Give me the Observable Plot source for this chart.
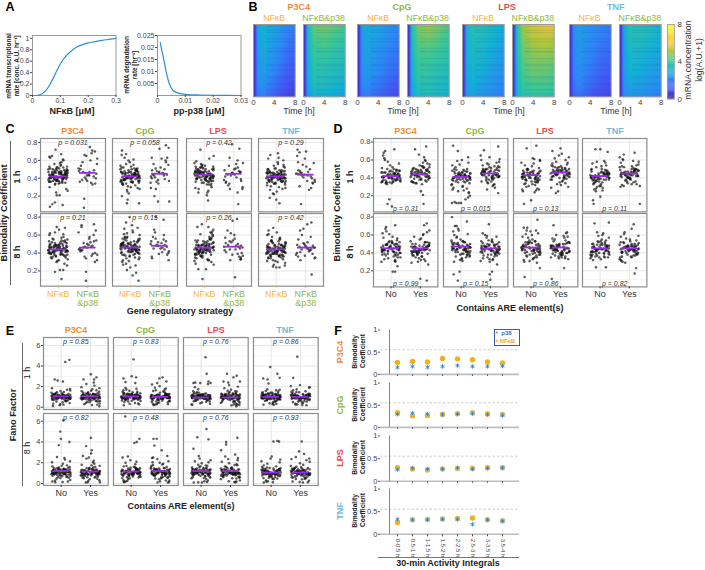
<!DOCTYPE html>
<html><head><meta charset="utf-8">
<script src="https://cdn.jsdelivr.net/npm/d3@7"></script>
<script src="https://cdn.jsdelivr.net/npm/@observablehq/plot@0.6"></script>
<style>html,body{margin:0;background:#fff}#page{position:relative;width:705px;height:570px;overflow:hidden;font-family:"Liberation Sans",Arial,sans-serif}
#page svg{position:absolute;background:transparent}.t{position:absolute;white-space:pre;line-height:1.05;text-align:center;transform-origin:center}</style>
</head><body><div id="page"></div>
<script>
// ---------- Panel A curves
const nfkbX=[0,.01,.02,.03,.04,.05,.06,.07,.08,.09,.1,.11,.12,.13,.14,.15,.16,.18,.2,.22,.25,.28,.3];
const nfkbY=[0,0,.005,.02,.05,.1,.17,.26,.36,.46,.55,.63,.69,.74,.78,.82,.85,.89,.92,.94,.965,.985,1];
const p38X=[.001,.0015,.002,.0025,.003,.0035,.004,.0045,.005,.006,.007,.008,.01,.012,.015,.02,.025,.03];
const p38Y=[.022,.019,.0165,.0135,.0105,.008,.0058,.0042,.003,.0018,.0012,.0008,.0005,.0003,.0002,.0001,.00005,0];
// ---------- Panel B heat tables (rows top to bottom; columns are heatTimes after the early ramp)
const heatRows=[0,.15,.3,.5,.7,.85,1];
const heatTimes=[.8,2,4,6,8];
const earlyTimes=[0,.35];
const earlyValues=[.2,.6];
const hP3C4A=[[2.8,3.1,2.8,2.2,1.8],[2.7,3.0,2.6,2.0,1.6],[2.6,2.9,2.4,1.8,1.4],[2.4,2.7,2.2,1.6,1.2],[2.3,2.5,1.9,1.3,1.0],[2.1,2.2,1.6,1.1,.8],[1.7,1.8,1.2,.8,.6]];
const hP3C4B=[[3.4,4.4,4.6,4.4,4.0],[3.3,4.2,4.3,4.1,3.9],[3.2,4.0,4.1,3.9,3.7],[3.0,3.8,3.8,3.6,3.5],[2.9,3.6,3.6,3.4,3.2],[2.7,3.4,3.4,3.2,3.0],[2.4,3.0,3.0,2.8,2.6]];
const hCpGA=[[2.6,2.9,2.7,2.3,2.0],[2.5,2.8,2.6,2.2,1.9],[2.4,2.7,2.4,2.0,1.7],[2.3,2.6,2.2,1.8,1.5],[2.2,2.4,2.0,1.6,1.3],[2.0,2.1,1.7,1.3,1.0],[1.7,1.8,1.4,1.0,.8]];
const hCpGB=[[3.5,4.6,4.9,4.6,4.2],[3.4,4.4,4.6,4.3,4.0],[3.3,4.2,4.3,4.1,3.8],[3.1,4.0,4.0,3.8,3.6],[3.0,3.8,3.8,3.6,3.4],[2.8,3.5,3.6,3.4,3.2],[2.6,3.2,3.4,3.2,3.0]];
const hLPSA=[[3.2,3.6,3.5,3.2,2.9],[3.1,3.5,3.4,3.1,2.8],[3.0,3.4,3.3,2.9,2.6],[2.9,3.3,3.1,2.7,2.4],[2.8,3.1,2.9,2.5,2.2],[2.6,2.9,2.6,2.3,2.0],[2.4,2.6,2.3,2.0,1.7]];
const hLPSB=[[3.6,4.9,5.5,5.8,5.9],[3.5,4.7,5.2,5.3,5.3],[3.5,4.5,4.9,5.0,4.9],[3.3,4.3,4.6,4.6,4.5],[3.2,4.1,4.4,4.3,4.2],[3.1,3.9,4.1,4.1,4.0],[3.0,3.6,3.8,3.8,3.6]];
const hTNFA=[[2.3,2.6,2.3,2.0,1.8],[2.2,2.5,2.2,1.9,1.7],[2.1,2.4,2.1,1.7,1.6],[2.0,2.3,1.9,1.5,1.3],[1.9,2.1,1.7,1.3,1.1],[1.7,1.9,1.5,1.1,.9],[1.4,1.5,1.1,.9,.7]];
const hTNFB=[[2.8,3.6,3.6,3.4,3.1],[2.7,3.5,3.5,3.3,3.0],[2.6,3.4,3.3,3.1,2.9],[2.5,3.2,3.1,2.8,2.6],[2.4,3.0,2.9,2.6,2.4],[2.2,2.7,2.6,2.3,2.1],[2.0,2.4,2.3,2.0,1.8]];
const streakRows=[.03,.08,.11,.2,.24,.33,.37,.38,.47,.55,.57,.63,.72,.74,.81,.83,.9,.96];
const barLevels=d3.range(0,8.02,.1);
const barTicks=[0,4,8];
const parulaAt=[0,1,2,3,4,5,6,7,8];
const parula=["#3e26a8","#4752f4","#2d87f7","#12b1d6","#37c897","#abc739","#fec338","#f5e427","#f9fb15"];
// ---------- Shared jitter offsets (hundredths of a category step)
const jitter=[-21,14,-5,30,-29,8,23,-13,2,-33,18,-8,27,-18,11,-25,5,32,-2,-30,20,-11,16,-23,29,-6,9,-16,25,-31,3,13,-27,21,-10,31,-19,6,-3,24,-14,17,-26];
// ---------- Panel C (hundredths); A NFkB, B NFkB&p38, O sparse points [x,y]; X extra core points of the NFkB cloud
const c1P3C4A=[45,38,52,41,36,48,43,56,34,47,40,50,44,37,58,42,35,46,39,53,49,33,61,41,45,38,55,43,47,36,51,40,63,44,34,48,42,57,37,46,39,52,41,65,35,49,43,30,54,45,40,47,38,60,42,28,50,44,36,46,26,41];
const c1P3C4B=[46,40,58,35,50,43,62,37,48,42,66,33,54,45,39,60,47,34,51,44,68,36,49,41,56,38,47,43];
const c1P3C4O=[[-28,8],[-20,11],[-11,13],[15,10],[-5,21],[5,21],[-7,24],[-9,72],[10,67],[-30,64],[88,17],[87,7],[107,75],[115,71],[124,70],[95,65]];
const c1P3C4X=[44,41,47,39,43,50,37,46,42,48,40,45,36,51,43,38,49,44,41,52,35,46,42,40,47,44,38,53,43,45,41,48,37,50,42,46,39,44,47,41];
const c1CpGA=[42,36,50,44,31,47,39,55,33,45,40,58,37,48,27,43,52,35,60,41,46,29,38,53,44,34,49,25,42,63,36,47,40,56,32,45,38,51,23,43,66,35,48,41,30,54,39,46,37,44,61,33,50,28,42,47];
const c1CpGB=[47,42,60,36,50,44,55,38,46,41,63,35,52,45,40,58,48,37,43,62,46,44,51,39,49,56,43,34];
const c1CpGO=[[-11,12],[-9,16],[-28,20],[30,12],[-28,71],[-14,67],[73,63],[94,14],[132,14],[70,29],[87,28],[82,20],[99,73],[121,77],[130,74]];
const c1CpGX=[43,40,46,38,42,49,36,45,41,47,39,44,35,50,42,37,48,43,40,51,34,45,41,39,46,43,37,52,42,44,40,47,36,49,41,45,38,43,46,40];
const c1LPSA=[44,39,50,42,35,47,40,56,33,46,41,52,37,48,30,43,54,36,59,45,38,49,28,42,51,34,46,62,40,44,26,47,37,53,42,32,48,39,57,45,35,50,41,24,44,38,65,46,29,43,52,36,47,40,55,33];
const c1LPSB=[46,41,54,37,49,44,60,35,47,43,57,32,51,45,39,63,48,36,44,52,46,30,42,56,47,28,50,38];
const c1LPSO=[[13,15],[-13,72],[115,11],[94,78],[119,73],[129,28],[113,24],[85,34],[-20,24],[9,21]];
const c1LPSX=[45,42,48,40,44,51,38,47,43,49,41,46,37,52,44,39,50,45,42,53,36,47,43,41,48,45,39,54,44,46,42,49,38,51,43,47,40,45,48,42];
const c1TNFA=[42,37,48,40,34,45,39,53,32,44,41,50,36,46,29,43,56,35,60,41,47,38,27,42,51,33,45,63,40,43,25,46,36,54,41,31,49,38,58,44,34,48,40,23,43,37,52,45,30,41,55,35,47,39,62,28];
const c1TNFB=[45,40,55,36,48,43,62,34,46,42,58,31,50,44,38,65,47,35,43,53,45,29,41,57,46,27,49,37];
const c1TNFO=[[-22,18],[0,16],[11,12],[84,11],[72,72],[79,69],[101,70],[-20,66],[-8,22],[6,68]];
const c1TNFX=[43,40,46,38,42,48,36,45,41,47,39,44,35,50,42,37,46,43,40,49,34,45,41,39,46,43,37,51,42,44,40,47,36,48,41,45,38,43,46,40];
const c8P3C4A=[47,41,52,44,38,49,43,58,36,46,42,54,39,50,33,45,60,37,63,48,40,51,30,44,55,35,47,66,42,45,28,49,38,56,43,31,52,40,61,46,34,50,44,26,45,39,68,47,32,43,53,37,48,41,57,35];
const c8P3C4B=[47,42,56,38,50,44,60,36,48,43,54,34,52,46,40,63,49,37,45,53,47,32,43,58,46,30,51,39];
const c8P3C4O=[[-11,19],[6,21],[17,21],[11,11],[94,19],[94,9],[79,71],[121,72],[127,65],[79,69],[-28,62],[-5,69]];
const c8P3C4X=[45,42,48,40,44,51,38,47,43,49,41,46,37,53,44,39,50,45,42,55,36,47,43,41,48,45,39,52,44,46,42,49,38,54,43,47,40,45,48,42];
const c8CpGA=[48,42,55,45,38,51,44,60,36,47,43,57,39,52,33,46,63,37,68,50,41,53,30,45,58,35,49,71,43,46,28,50,38,61,44,31,54,41,65,47,34,52,45,26,46,40,58,48,32,44,56,37,49,42,62,35];
const c8CpGB=[49,44,58,40,52,46,63,38,50,45,55,36,53,48,42,66,51,39,47,56,49,34,45,60,48,32,53,41];
const c8CpGO=[[28,9],[8,15],[-11,21],[0,24],[-14,74],[-2,80],[87,80],[113,77],[-20,67],[20,18],[-24,27]];
const c8CpGX=[47,44,50,42,46,53,40,49,45,51,43,48,39,55,46,41,52,47,44,56,38,49,45,43,50,47,41,54,46,48,44,51,40,57,45,49,42,47,50,44];
const c8LPSA=[47,41,54,44,37,50,43,60,35,46,42,57,38,52,32,45,63,36,66,49,40,53,30,44,58,34,48,69,42,46,28,51,38,61,43,31,55,40,64,47,33,52,45,27,46,39,56,48,32,44,59,37,49,41,62,35];
const c8LPSB=[48,43,56,39,51,45,62,37,49,44,54,35,53,47,41,65,50,38,46,57,48,33,44,60,47,36,52,40];
const c8LPSO=[[-6,11],[-20,22],[6,22],[104,13],[124,33],[96,76],[111,78],[-23,69],[-8,72],[88,32]];
const c8LPSX=[46,43,49,41,45,52,39,48,44,50,42,47,38,54,45,40,51,46,43,55,37,48,44,42,49,46,40,53,45,47,43,50,39,56,44,48,41,46,49,43];
const c8TNFA=[45,40,50,42,36,48,41,55,34,44,39,52,37,47,31,43,58,35,61,46,38,49,29,42,53,33,45,63,40,44,27,47,36,56,41,30,51,39,60,44,32,49,43,26,45,37,54,46,31,42,57,35,48,40,50,34];
const c8TNFB=[46,41,52,37,48,44,58,36,47,43,50,34,49,45,39,60,47,38,44,51,46,32,42,55,45,35,48,40];
const c8TNFO=[[0,24],[11,24],[-11,25],[120,16],[119,74],[81,65],[92,67],[-26,65],[-10,68],[105,72]];
const c8TNFX=[44,41,47,39,43,50,38,46,42,48,40,45,37,52,43,39,49,44,41,53,36,46,42,40,47,44,38,51,43,45,41,48,37,54,42,46,39,44,47,41];
// ---------- Panel D (Core = extra points of the dense middle of each cloud)
const d1P3C4A=[44,38,50,42,35,47,40,56,34,45,41,52,36,48,46,43,58,37,62,41,47,39,35,42,51,34,45,65,40,44,37,46,36,54,42,33,49,38,60,43,35,48,41,36,44];
const d1P3C4B=[46,40,54,36,48,43,60,35,47,42,57,34,50,45,38,63,48,36,44,52,46,33,41,56,47,37,50,39,45,66,42,36,53,44,34,49,41,59,46,38,43,51,35,47,55];
const d1P3C4O=[[-6,16],[-12,11],[3,8],[102,25],[109,21],[111,11],[-20,70],[11,72],[120,75],[82,72],[-25,68],[-30,36]];
const d1CpGA=[42,36,48,40,30,45,38,54,28,43,39,50,34,46,26,41,57,33,60,44,37,47,25,40,52,31,44,63,38,42,29,45,35,55,41,27,49,37,59,43,32,47,39,24,42];
const d1CpGB=[46,42,55,38,50,44,60,36,47,43,57,35,52,46,40,63,49,37,45,54,47,33,43,58,46,31,51,39,48,65,44,34,53,45,32,50,41,61,47,36,43,56,29,48,41];
const d1CpGO=[[-31,12],[-16,12],[0,12],[15,16],[30,20],[26,23],[-27,76],[-11,70],[127,23],[89,27],[127,75],[78,71],[-22,13],[-8,12],[24,18]];
const d1LPSA=[44,38,50,42,33,47,40,56,30,45,41,53,36,48,28,43,59,34,62,46,37,49,26,41,54,32,45,60,39,44,35,46,36,57,42,31,51,38,61,43,33,48,40,27,44];
const d1LPSB=[48,43,56,39,51,46,62,36,49,44,58,34,53,47,41,65,50,38,46,55,48,32,45,60,47,30,52,40,49,67,44,35,54,46,33,51,42,63,47,37,44,57,29,48,41];
const d1LPSO=[[0,15],[27,27],[18,76],[73,70],[101,73],[85,23],[-15,73],[-24,11],[-28,25],[12,24],[92,25]];
const d1TNFA=[42,37,48,41,33,45,39,54,30,44,40,50,36,46,28,43,56,34,59,45,38,47,26,41,52,31,43,57,39,42,35,45,37,53,40,31,49,38,58,44,33,46,41,29,43];
const d1TNFB=[45,41,54,37,48,44,60,35,47,42,57,33,50,45,39,63,48,36,44,52,46,32,43,58,45,30,50,38,47,61,42,34,53,44,33,49,40,59,46,36,43,55,31,47,40];
const d1TNFO=[[-16,72],[1,72],[26,69],[-24,15],[-22,11],[1,19],[-14,25],[136,11],[118,68],[81,66],[136,31],[-20,27]];
const d1CoreA=[43,40,46,38,42,48,37,45,41,47,39,44,36,49,42,38,46,43,40,50,35,45,41,39];
const d1CoreB=[46,43,49,41,45,51,40,48,44,50,42,47,39,52,45,41,49,46,43,53,38,48,44,42];
const d8P3C4A=[46,40,52,44,37,49,43,58,35,47,42,54,39,50,33,45,61,36,64,48,41,51,31,44,56,34,47,67,42,46,38,49,37,57,43,32,53,40,62,45,35,50,44,30,46];
const d8P3C4B=[45,40,52,37,48,43,60,35,47,42,56,33,50,44,38,65,47,36,43,52,46,31,41,58,45,34,49,39,47,63,42,32,53,44,30,48,41,61,46,36,43,55,29,47,40];
const d8P3C4O=[[6,19],[14,19],[22,25],[100,11],[122,9],[127,27],[122,73],[-17,69],[14,71],[-30,38],[113,71],[15,30]];
const d8CpGA=[48,42,55,45,38,51,44,60,36,47,43,57,39,52,34,46,64,37,67,50,41,53,32,45,58,35,49,70,43,46,37,50,39,61,44,33,54,41,65,47,36,52,45,31,46];
const d8CpGB=[46,41,53,38,49,44,58,35,47,42,55,33,50,45,39,62,48,36,44,52,46,32,43,57,45,31,49,38,47,60,42,34,53,44,30,48,41,59,46,37,43,54,33,47,40];
const d8CpGO=[[-31,80],[-25,16],[-5,19],[-11,9],[98,16],[106,19],[100,10],[123,27],[20,75],[95,72],[-24,30],[-15,70]];
const d8LPSA=[47,41,54,44,37,50,43,60,35,46,42,57,38,52,33,45,62,36,65,49,40,53,31,44,58,34,48,68,42,46,37,51,38,61,43,32,55,40,64,47,35,52,45,30,46];
const d8LPSB=[47,42,55,38,50,45,60,36,48,43,57,34,52,46,40,63,49,37,45,54,47,33,44,59,46,35,51,39,48,62,43,34,53,45,36,50,41,58,47,38,44,56,40,48,42];
const d8LPSO=[[30,23],[71,11],[113,23],[22,77],[77,71],[-22,13],[-25,68],[-15,65],[68,35],[20,29]];
const d8TNFA=[45,40,50,43,37,48,41,55,35,46,42,52,38,47,36,44,57,36,60,46,39,49,34,42,53,35,45,62,41,44,38,47,37,54,42,35,50,39,59,44,36,48,41,33,45];
const d8TNFB=[45,41,52,37,48,44,58,35,47,42,55,33,50,45,39,61,48,36,44,51,46,32,43,56,45,30,49,38,47,63,42,35,53,44,31,48,40,59,46,36,43,54,29,47,41];
const d8TNFO=[[-14,24],[20,24],[-19,73],[30,74],[118,17],[123,23],[115,72],[108,67],[-24,32],[-10,63]];
const d8CoreA=[46,43,49,41,45,51,40,48,44,50,42,47,39,52,45,41,49,46,43,53,38,48,44,42];
const d8CoreB=[45,42,48,40,44,50,39,47,43,49,41,46,38,51,44,40,48,45,42,52,37,47,43,41];
// ---------- Panel E (Core = extra points around the median, both clouds)
const e1P3C4A=[105,82,128,96,68,118,90,142,58,110,86,135,76,122,48,102,158,72,170,112,64,125,40,98,148,55,108,185,84,115,35,100,92,162,78,120,30,104,145,88,70,130,60,95,178,112,25,106,80,136];
const e1P3C4B=[110,78,140,92,60,125,88,165,50,115,82,150,70,130,42,100,195,66,210,118,58,135,35,96,175,48,108,225,84,122,30,102,90,185,75,128,25,105,160,86,62,145,55,98,240,112,22,94,72,155];
const e1P3C4O=[[14,440],[28,460],[-22,270],[-12,260],[101,320],[120,290],[76,270],[6,250],[-28,12],[-5,20],[112,270],[130,10]];
const e1CpGA=[105,84,130,95,70,118,90,145,60,110,86,135,78,122,50,100,160,74,172,112,65,125,42,98,150,56,108,188,85,115,36,102,92,165,76,120,32,104,148,88,72,132,62,96,180,110,28,106,82,138];
const e1CpGB=[100,78,135,90,60,120,85,165,48,112,80,150,68,128,40,96,190,64,205,115,55,130,34,94,172,46,105,220,82,118,30,100,88,182,72,125,26,102,158,84,60,142,52,95,235,108,20,92,70,152];
const e1CpGO=[[8,465],[2,300],[17,290],[-26,280],[-19,245],[14,235],[96,280],[107,290],[-25,20],[120,250],[125,30]];
const e1LPSA=[100,80,125,92,66,115,86,140,56,106,84,132,72,118,46,98,155,70,175,108,62,120,38,94,145,52,104,195,82,112,32,96,88,225,74,116,28,100,142,85,68,128,58,92,235,108,24,102,76,134];
const e1LPSB=[102,76,132,90,58,120,84,160,44,110,78,148,66,128,38,96,185,62,215,114,54,134,30,92,170,42,104,240,80,118,26,98,86,250,70,124,22,100,156,82,56,140,50,94,200,108,18,90,68,152];
const e1LPSO=[[15,485],[19,325],[-26,235],[-3,235],[25,250],[88,325],[121,305],[76,250],[110,290],[-20,240],[120,10],[130,22]];
const e1TNFA=[102,80,128,94,66,116,88,142,56,106,84,134,74,120,44,98,152,70,165,110,62,122,38,96,146,52,104,175,82,114,32,100,90,158,76,118,30,102,140,86,68,130,58,92,170,108,24,104,78,136];
const e1TNFB=[104,78,130,92,62,118,86,155,50,108,80,146,70,126,42,98,175,66,205,114,56,132,34,94,165,46,106,215,82,120,28,100,88,190,74,124,26,102,150,84,60,140,54,96,195,110,22,92,72,148];
const e1TNFO=[[-3,390],[89,490],[21,325],[29,285],[-27,280],[75,285],[-12,270],[-9,230],[-26,25],[120,20]];
const e1CoreA=[108,95,120,88,102,115,92,125,84,110,98,118,90,105,122,86,100,112,94,128,82,106,96,116,88,104,120,92,99,110];
const e1CoreB=[112,94,126,86,104,118,90,132,80,108,96,122,84,100,128,88,102,116,92,136,78,106,94,120,86,110,124,90,98,114];
const e8P3C4A=[120,92,150,105,72,135,98,175,60,125,88,160,78,142,46,110,205,70,230,128,62,145,35,100,190,52,115,255,85,130,28,108,95,215,75,138,20,112,170,90,66,155,55,102,245,122,15,104,80,165];
const e8P3C4B=[115,88,155,100,68,130,92,190,55,122,84,170,74,140,42,106,240,64,265,126,58,150,32,98,205,46,112,290,80,132,24,104,90,220,72,136,12,110,180,86,60,160,50,96,250,118,10,94,76,175];
const e8P3C4O=[[-3,500],[-1,430],[-8,370],[28,400],[8,610],[101,440],[85,360],[104,320],[-20,12],[90,12],[-30,20]];
const e8CpGA=[115,88,148,102,70,132,95,170,58,120,86,158,76,140,44,108,200,68,225,125,60,145,32,98,185,50,112,250,84,128,26,104,92,210,72,135,20,110,165,88,64,152,52,100,260,118,14,102,78,160];
const e8CpGB=[120,90,160,105,70,138,96,200,55,128,85,178,74,148,42,110,245,64,265,130,58,155,30,100,215,48,116,250,82,140,22,106,92,235,72,145,14,112,190,88,60,168,50,98,205,122,10,96,76,182];
const e8CpGO=[[-20,645],[11,390],[19,400],[28,430],[76,430],[87,430],[79,365],[104,320],[-25,15],[125,10],[130,30]];
const e8LPSA=[120,92,155,105,72,138,98,180,58,126,88,165,76,145,44,110,215,68,240,130,60,150,30,100,195,50,115,265,84,134,22,106,94,225,74,140,14,112,175,90,64,158,52,102,205,122,10,104,78,170];
const e8LPSB=[122,92,160,106,72,140,98,195,56,128,86,175,76,148,42,112,235,66,260,132,60,155,30,102,210,48,118,280,84,136,22,108,94,245,74,142,14,114,185,90,62,165,50,100,225,124,12,96,78,178];
const e8LPSO=[[18,525],[-13,445],[25,425],[-26,335],[85,400],[123,440],[68,320],[85,375],[-25,10],[120,20],[-10,12]];
const e8TNFA=[110,86,140,98,68,125,92,165,52,115,82,150,72,132,42,102,190,62,215,120,56,138,30,96,175,46,108,240,78,128,22,100,90,205,70,130,16,104,160,84,60,145,48,94,230,112,12,98,74,155];
const e8TNFB=[108,84,142,96,66,124,90,170,50,114,80,152,70,130,40,100,195,60,225,118,54,136,28,94,180,44,106,235,76,126,20,98,88,210,68,128,14,102,162,82,58,148,46,92,240,110,10,96,72,158];
const e8TNFO=[[8,405],[21,410],[27,405],[104,405],[95,310],[112,285],[2,260],[84,255],[-25,10],[125,12]];
const e8CoreA=[122,104,138,92,114,130,98,146,86,118,108,134,96,112,142,90,110,126,102,150,84,116,100,128,94,120,136,106,88,124];
const e8CoreB=[118,100,134,90,110,126,96,144,84,114,104,130,92,108,140,88,106,122,98,148,80,112,102,124,94,116,132,86,100,120];
// ---------- Medians, p values (rows = panels P3C4, CpG, LPS, TNF)
const c1Med=[[.42,.46],[.42,.45],[.44,.45],[.42,.44]],c8Med=[[.44,.46],[.46,.48],[.46,.47],[.44,.46]];
const d1Med=[[.42,.44],[.41,.45],[.43,.46],[.42,.45]],d8Med=[[.45,.45],[.47,.45],[.46,.46],[.45,.45]];
const e1Med=[[1.05,1.05],[1.05,1.0],[.95,.95],[1.0,1.0]],e8Med=[[1.2,1.15],[1.15,1.2],[1.2,1.2],[1.05,1.05]];
const c1P=["0.031","0.058","0.42","0.29"],c8P=["0.21","0.15","0.26","0.42"];
const d1P=["0.31","0.015","0.13","0.11"],d8P=["0.99","0.15","0.86","0.82"];
const e1P=["0.85","0.83","0.76","0.86"],e8P=["0.82","0.48","0.76","0.93"];
// ---------- Panel F
const windows=["0-0.5 h","0.5-1 h","1-1.5 h","1.5-2 h","2-2.5 h","2.5-3 h","3-3.5 h","3.5-4 h"];
const fP3C4N=[.27,.29,.28,.36,.35,.33,.28,.26],fP3C4P=[.16,.18,.16,.18,.20,.18,.18,.19];
const fCpGN=[.33,.26,.27,.29,.31,.33,.30,.29],fCpGP=[.30,.32,.30,.29,.30,.31,.29,.27];
const fLPSN=[.30,.27,.25,.27,.28,.29,.30,.30],fLPSP=[.26,.29,.27,.27,.30,.27,.29,.30];
const fTNFN=[.26,.32,.33,.34,.35,.36,.32,.30],fTNFP=[.33,.32,.32,.33,.33,.22,.32,.29];
const fThreshold=.555;

// ---------- Helpers
const page=document.getElementById("page");
const FONT='"Liberation Sans",Arial,sans-serif';
const ORANGE="#f08a3c",GREEN="#8db840",RED="#ee4b4b",BLUE="#74b9d8",YEL="#f5b63f",TXT="#444",FR="#8c8c8c",PURPLE="#9a2be2";
const TITLES=[["P3C4",ORANGE],["CpG",GREEN],["LPS",RED],["TNF",BLUE]];
function label(s,x,y,o={}){const d=document.createElement("div");d.className="t";d.textContent=s;
 d.style.left=x+"px";d.style.top=y+"px";d.style.fontSize=(o.size||8)+"px";d.style.fontWeight=o.bold?"700":"400";d.style.color=o.color||"#222";
 d.style.transform=`translate(-50%,-50%) rotate(${o.rot||0}deg)`;page.appendChild(d);return d;}
function place(p,x,y){p.style.left=x+"px";p.style.top=y+"px";page.appendChild(p);}
const base=(w,h,o={})=>({width:w,height:h,marginTop:o.mt||0,marginRight:o.mr||0,marginBottom:o.mb||0,marginLeft:o.ml||0,style:{fontFamily:FONT,background:"transparent",overflow:"visible",color:TXT}});
const str=d=>String(d);

// ---------- A
function curve(xs,ys,x,w,dx,dy,tx,ty){
 const pts=xs.map((v,i)=>({x:v,y:ys[i]}));
 place(Plot.plot({...base(w+24,60+12,{ml:24,mb:12}),x:{domain:dx,axis:null},y:{domain:dy,axis:null},marks:[
  Plot.frame({stroke:"#999",strokeWidth:1}),
  Plot.line(pts,{x:"x",y:"y",stroke:"#2a8fd6",strokeWidth:1.2,curve:"monotone-x"}),
  Plot.axisX({ticks:tx,tickFormat:str,tickSize:2,tickPadding:1,fontSize:7,label:null}),
  Plot.axisY({ticks:ty,tickFormat:str,tickSize:2,tickPadding:1,fontSize:7,label:null})]}),x-24,35);
}
curve(nfkbX,nfkbY,32,83.5,[0,.3],[0,1.05],[0,.1,.2,.3],[0,.2,.4,.6,.8,1]);
curve(p38X,p38Y,156.5,83.5,[0,.03],[0,.025],[0,.01,.02,.03],[.005,.01,.015,.02,.025]);
label("mRNA transcriptional",8.5,66,{size:6.4,bold:true,rot:-90});
label("rate [conc. A.U. hr⁻¹]",16.5,66,{size:6.4,bold:true,rot:-90});
label("mRNA degradation",127,65,{size:6.4,bold:true,rot:-90});
label("rate [hr⁻¹]",135,65,{size:6.4,bold:true,rot:-90});
label("NFκB [μM]",72,112,{size:9,bold:true});label("pp-p38 [μM]",199,112,{size:9,bold:true});

// ---------- B
function heat(tab,x,lab,col){
 const cells=[];
 heatRows.forEach((r,i)=>{earlyTimes.forEach((t,j)=>cells.push({t,r,v:earlyValues[j]}));heatTimes.forEach((t,j)=>cells.push({t,r,v:tab[i][j]}));});
 const W=41.7,H=72.4;
 place(Plot.plot({...base(W,H+14,{mb:14}),x:{domain:[0,8],axis:null},y:{domain:[1,0],axis:null},color:{type:"linear",domain:parulaAt,range:parula,interpolate:"rgb"},marks:[
  Plot.raster(cells,{x:"t",y:"r",fill:"v",interpolate:"barycentric",pixelSize:.5}),
  Plot.ruleY(streakRows,{x1:2.5,x2:8,stroke:"#2236b4",strokeOpacity:.14,strokeWidth:.9}),
  Plot.frame({stroke:"#9a9a9a",strokeWidth:1}),
  Plot.axisX({ticks:[0,4,8],tickFormat:str,tickSize:0,tickPadding:2,fontSize:8,label:null})]}),x,24.3);
 label(lab,x+W/2,19,{size:8.8,color:col});
}
const hx=[253.3,302.7,357.3,406.7,462.3,512,568.7,619];
[hP3C4A,hP3C4B,hCpGA,hCpGB,hLPSA,hLPSB,hTNFA,hTNFB].forEach((t,i)=>heat(t,hx[i],i%2?"NFκB&p38":"NFκB",i%2?GREEN:YEL));
[[298.7,299],[402,403],[507,509],[615.7,616]].forEach((c,i)=>{label(TITLES[i][0],c[0],8,{size:9,bold:true,color:TITLES[i][1]});label("Time [h]",c[1],112,{size:8.8,color:"#333"});});
place(Plot.plot({...base(7+12,74.7,{mr:12}),x:{domain:[0,1],axis:null},y:{domain:[0,8],axis:null},color:{type:"linear",domain:parulaAt,range:parula,interpolate:"rgb"},marks:[
 Plot.rect(barLevels,{x1:0,x2:1,y1:d=>d,y2:d=>Math.min(8,d+.11),fill:d=>d}),
 Plot.frame({stroke:"#999",strokeWidth:.8}),
 Plot.axisY({anchor:"right",ticks:barTicks,tickFormat:str,tickSize:0,tickPadding:3,fontSize:8,label:null})]}),667,24);
label("mRNA concentration",689,60,{size:8.6,rot:-90,color:"#333"});
label("log(A.U.+1)",699.5,60,{size:8.6,rot:-90,color:"#333"});

// ---------- Scatter panels
function expand(vals,cat,off){return vals.map((v,i)=>({x:cat+jitter[(i+off)%jitter.length]/100,y:v/100}));}
function scatter(o){
 const pts=[...expand(o.A,0,o.off),...expand(o.B,1,o.off+11),...o.O.map(d=>({x:d[0]/100,y:d[1]/100}))];
 const ml=22,mb=o.xaxis?24:0;
 const marks=[
  Plot.ruleY(o.minor,{stroke:"#f1f1f1",strokeWidth:.8}),
  Plot.ruleY(o.major,{stroke:"#e4e4e4",strokeWidth:.9}),
  Plot.ruleX([0,1],{stroke:"#e4e4e4",strokeWidth:.9}),
  Plot.dot(pts,{x:"x",y:"y",r:1.2,fill:"#111",fillOpacity:.68,stroke:"#111",strokeOpacity:.25,strokeWidth:.3}),
  Plot.ruleY([o.med[0]],{x1:-.28,x2:.28,stroke:PURPLE,strokeWidth:1.8}),
  Plot.ruleY([o.med[1]],{x1:.72,x2:1.28,stroke:PURPLE,strokeWidth:1.8}),
  Plot.frame({stroke:FR,strokeWidth:1.2}),
  Plot.text(["p = "+o.p],{frameAnchor:o.pAt,dy:o.pAt==="top"?2:-1,text:d=>d,fontStyle:"italic",fontSize:7,fill:"#333",lineAnchor:o.pAt==="top"?"top":"bottom"})];
 if(o.yaxis)marks.push(Plot.axisY({ticks:o.major,tickFormat:str,tickSize:2,tickPadding:1,fontSize:7.5,label:null}));
 if(o.xaxis)o.cats.forEach((c,i)=>marks.push(Plot.axisX({ticks:[i],tickFormat:()=>c[0],color:c[1],tickSize:2,tickPadding:2,fontSize:9,label:null,lineHeight:1})));
 place(Plot.plot({...base(o.w+ml,o.h+mb,{ml,mb}),x:{domain:[-.6,1.6],axis:null},y:{domain:o.dom,axis:null},marks}),o.x-ml,o.y);
}
const bcMajor=[.2,.4,.6,.8],bcMinor=[.1,.3,.5,.7];
const ffMajor=[0,2,4,6],ffMinor=[1,3,5];
const catsC=[["NFκB",YEL],["NFκB\n&p38",GREEN]],catsNY=[["No","#333"],["Yes","#333"]];
const sets={
 c1:[[c1P3C4A.concat(c1P3C4X),c1P3C4B,c1P3C4O],[c1CpGA.concat(c1CpGX),c1CpGB,c1CpGO],[c1LPSA.concat(c1LPSX),c1LPSB,c1LPSO],[c1TNFA.concat(c1TNFX),c1TNFB,c1TNFO]],
 c8:[[c8P3C4A.concat(c8P3C4X),c8P3C4B,c8P3C4O],[c8CpGA.concat(c8CpGX),c8CpGB,c8CpGO],[c8LPSA.concat(c8LPSX),c8LPSB,c8LPSO],[c8TNFA.concat(c8TNFX),c8TNFB,c8TNFO]],
 d1:[[d1P3C4A.concat(d1CoreA),d1P3C4B.concat(d1CoreB),d1P3C4O],[d1CpGA.concat(d1CoreA),d1CpGB.concat(d1CoreB),d1CpGO],[d1LPSA.concat(d1CoreA),d1LPSB.concat(d1CoreB),d1LPSO],[d1TNFA.concat(d1CoreA),d1TNFB.concat(d1CoreB),d1TNFO]],
 d8:[[d8P3C4A.concat(d8CoreA),d8P3C4B.concat(d8CoreB),d8P3C4O],[d8CpGA.concat(d8CoreA),d8CpGB.concat(d8CoreB),d8CpGO],[d8LPSA.concat(d8CoreA),d8LPSB.concat(d8CoreB),d8LPSO],[d8TNFA.concat(d8CoreA),d8TNFB.concat(d8CoreB),d8TNFO]],
 e1:[[e1P3C4A.concat(e1CoreA),e1P3C4B.concat(e1CoreB),e1P3C4O],[e1CpGA.concat(e1CoreB),e1CpGB.concat(e1CoreA),e1CpGO],[e1LPSA.concat(e1CoreA),e1LPSB.concat(e1CoreB),e1LPSO],[e1TNFA.concat(e1CoreB),e1TNFB.concat(e1CoreA),e1TNFO]],
 e8:[[e8P3C4A.concat(e8CoreA),e8P3C4B.concat(e8CoreB),e8P3C4O],[e8CpGA.concat(e8CoreB),e8CpGB.concat(e8CoreA),e8CpGO],[e8LPSA.concat(e8CoreA),e8LPSB.concat(e8CoreB),e8LPSO],[e8TNFA.concat(e8CoreB),e8TNFB.concat(e8CoreA),e8TNFO]]};
function row(set,xs,w,y,h,dom,major,minor,med,ps,pAt,cats,xaxis,off){
 set.forEach((s,i)=>scatter({A:s[0],B:s[1],O:s[2],x:xs[i],y,w,h,dom,major,minor,med:med[i],p:ps[i],pAt,cats,xaxis,yaxis:i===0,off:off+i*7}));
}
const cx=[40,112.3,185.7,258.3];
row(sets.c1,cx,65,137.7,73.3,[.024,.845],bcMajor,bcMinor,c1Med,c1P,"top",catsC,false,0);
row(sets.c8,cx,65,213,72.7,[.03,.84],bcMajor,bcMinor,c8Med,c8P,"top",catsC,true,3);
const dx=[373.3,443,512.7,582.3];
row(sets.d1,dx,64.4,138.3,73.4,[.02,.84],bcMajor,bcMinor,d1Med,d1P,"bottom",catsNY,false,5);
row(sets.d8,dx,64.4,213.3,73.4,[.02,.84],bcMajor,bcMinor,d8Med,d8P,"bottom",catsNY,true,9);
const ex=[43.3,113.3,183.3,252.7];
row(sets.e1,ex,64.7,337.3,72,[-.22,6.77],ffMajor,ffMinor,e1Med,e1P,"top",catsNY,false,2);
row(sets.e8,ex,64.7,413,72,[-.19,6.74],ffMajor,ffMinor,e8Med,e8P,"top",catsNY,true,13);

[[72.5],[145],[218],[291]].forEach((c,i)=>label(TITLES[i][0],c[0],132,{size:9,bold:true,color:TITLES[i][1]}));
[[405.5],[475],[545],[615]].forEach((c,i)=>label(TITLES[i][0],c[0],132,{size:9,bold:true,color:TITLES[i][1]}));
[[76],[145.5],[216],[285]].forEach((c,i)=>label(TITLES[i][0],c[0],331,{size:9,bold:true,color:TITLES[i][1]}));

function vline(x,y1,y2,col,w){const d=document.createElement("div");d.style.cssText=`position:absolute;left:${x}px;top:${y1}px;width:${w||1}px;height:${y2-y1}px;background:${col||"#666"}`;page.appendChild(d);}
function hline(x1,x2,y,col,w){const d=document.createElement("div");d.style.cssText=`position:absolute;left:${x1}px;top:${y}px;height:${w||1}px;width:${x2-x1}px;background:${col||"#888"}`;page.appendChild(d);}
vline(10,141,285,"#666",1);
label("Bimodality Coefficient",4.8,213,{size:9.2,bold:true,rot:-90});
label("1 h",18,177,{size:9,rot:-90,bold:true});label("8 h",18,252,{size:9,rot:-90,bold:true});
label("Gene regulatory strategy",180,312,{size:9,bold:true});
label("Bimodality Coefficient",338,213,{size:9.2,bold:true,rot:-90});
label("1 h",351,177,{size:9,rot:-90,bold:true});label("8 h",351,252,{size:9,rot:-90,bold:true});
label("Contains ARE element(s)",510,309,{size:9,bold:true});
vline(22,343,486,"#666",1);
label("Fano Factor",14,415,{size:9.2,bold:true,rot:-90});
label("1 h",28,373,{size:9,rot:-90});label("8 h",28,448,{size:9,rot:-90});
label("Contains ARE element(s)",181,507,{size:9,bold:true});

// ---------- F
function fRow(n,p,yTop,yZero,xaxis,name,col,cy){
 const H=yZero-yTop,ml=8,mb=xaxis?30:0;
 const a=windows.map((w,i)=>({w,v:n[i]})),b=windows.map((w,i)=>({w,v:p[i]}));
 const marks=[
  Plot.ruleY([fThreshold],{stroke:"#c8c8c8",strokeDasharray:"2.5,2",strokeWidth:.9}),
  Plot.ruleY([0],{stroke:"#bdbdbd",strokeWidth:1.6}),
  Plot.dot(a,{x:"w",y:"v",r:2.7,fill:"#efb01f"}),
  Plot.dot(b,{x:"w",y:"v",symbol:"asterisk",r:2.8,stroke:"#a9d3f2",strokeOpacity:.55,strokeWidth:1.2}),
  Plot.dot(b,{x:"w",y:"v",symbol:"asterisk",r:1.9,stroke:"#2a82c9",strokeWidth:.8}),
  Plot.axisY({ticks:[0,.5,1],tickFormat:str,tickSize:2,tickPadding:1,fontSize:7.5,label:null,stroke:"#555"})];
 const xa=xaxis?Plot.axisX({tickRotate:90,tickSize:2,tickPadding:2,fontSize:6,label:null,textAnchor:"start",lineAnchor:"middle"}):Plot.axisX({tickFormat:()=>"",tickSize:1.5,label:null});
 place(Plot.plot({...base(139+ml,H+1+mb,{ml,mb}),x:{type:"point",domain:windows,range:[388+ml-380,510+ml-380],axis:null},y:{domain:[0,1],range:[0.5,H+.5].reverse(),axis:null},marks:[...marks,xa,
  Plot.ruleX([windows[0]],{dx:-8,y1:0,y2:1,stroke:"#666",strokeWidth:.8})]}),380-ml,yTop);
 label(name,341,cy,{size:9,bold:true,color:col,rot:-90});
 label("Bimodality",355,cy,{size:6.6,bold:true,rot:-90});label("Coefficient",362.7,cy-1,{size:6.6,bold:true,rot:-90});
}
fRow(fP3C4N,fP3C4P,329.3,373.7,false,"P3C4",ORANGE,352);
fRow(fCpGN,fCpGP,382.3,426.7,false,"CpG",GREEN,405);
fRow(fLPSN,fLPSP,435,480.3,false,"LPS",RED,458);
fRow(fTNFN,fTNFP,487.7,533,true,"TNF",BLUE,511);
hline(378,519,557,"#777",1);
label("30-min Activity Integrals",448,564,{size:9,bold:true});
// legend
const lg=document.createElement("div");lg.style.cssText="position:absolute;left:494px;top:329px;width:24px;height:15px;border:1px solid #3b5ca8;background:#fff";page.appendChild(lg);
label("p38",506.5,333,{size:6,bold:true,color:"#3b6fc4"});label("NFκB",507.5,340.5,{size:6,bold:true,color:"#efb01f"});
label("*",496.5,334,{size:7,color:"#2a82c9"});label("●",496.5,340.5,{size:5,color:"#efb01f"});

// letters
[["A",10,7.5],["B",253,7.5],["C",10,130],["D",338,130],["E",10,332],["F",338,332]].forEach(l=>label(l[0],l[1],l[2],{size:12.5,bold:true,color:"#000"}));
</script></body></html>
